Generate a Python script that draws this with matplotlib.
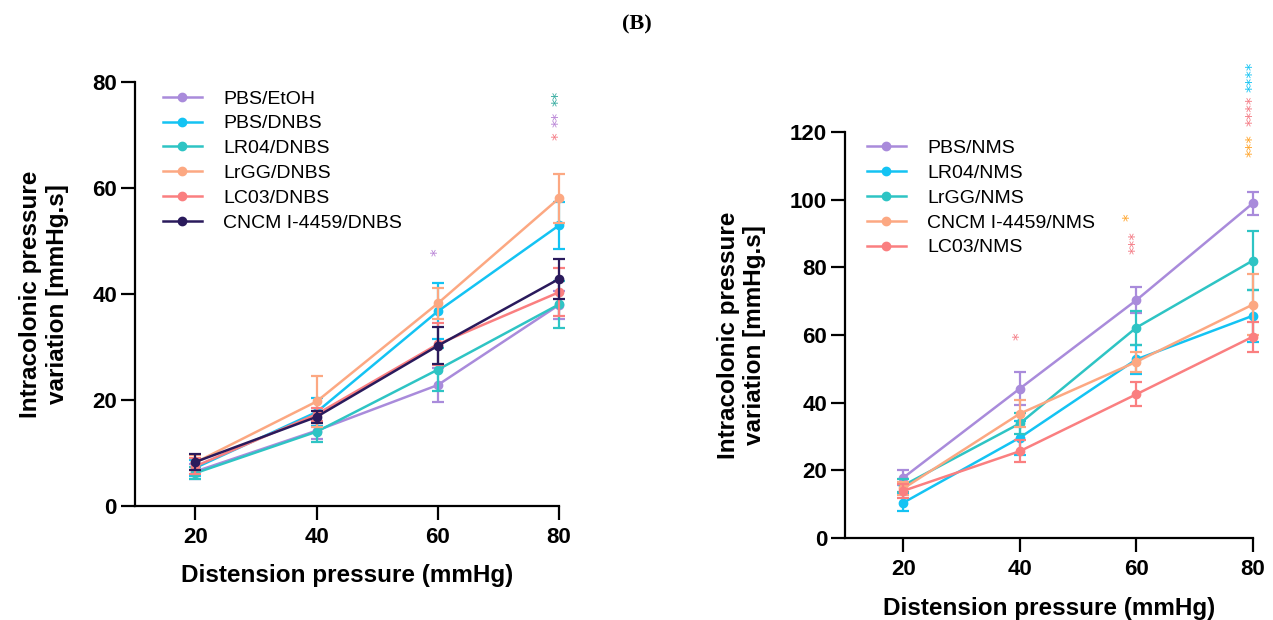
import numpy as np
import matplotlib.pyplot as plt

plt.rcParams['font.family'] = ['Liberation Sans', 'DejaVu Sans']

pressure = [20, 40, 60, 80]

# left panel (DNBS)
left_names = ['PBS/EtOH', 'PBS/DNBS', 'LR04/DNBS', 'LrGG/DNBS', 'LC03/DNBS', 'CNCM I-4459/DNBS']
left_means = [
    [6.5, 14.2, 22.8, 37.9],
    [7.2, 17.7, 36.7, 52.9],
    [6.2, 14.0, 25.7, 38.0],
    [8.2, 19.7, 38.2, 58.0],
    [7.5, 17.3, 30.5, 40.3],
    [8.3, 16.8, 30.2, 42.8],
]
left_sem = [
    [1.5, 1.5, 3.2, 2.6],
    [1.5, 2.6, 5.3, 4.5],
    [1.2, 2.0, 4.0, 4.4],
    [1.5, 4.8, 3.0, 4.7],
    [1.5, 1.2, 4.0, 4.5],
    [1.5, 1.2, 3.5, 3.8],
]
left_colors = ['#a98bdb', '#14c3f3', '#2ec4c4', '#fca882', '#fa7f80', '#2a1a5c']

# right panel (NMS)
right_names = ['PBS/NMS', 'LR04/NMS', 'LrGG/NMS', 'CNCM I-4459/NMS', 'LC03/NMS']
right_means = [
    [17.9, 44.2, 70.3, 98.9],
    [10.5, 29.7, 52.8, 65.7],
    [15.6, 33.9, 62.2, 82.0],
    [14.7, 36.8, 52.1, 69.0],
    [14.0, 25.7, 42.5, 59.5],
]
right_sem = [
    [2.2, 4.8, 3.8, 3.4],
    [2.6, 5.0, 4.2, 7.6],
    [2.0, 3.0, 5.0, 8.8],
    [2.0, 4.0, 3.0, 9.0],
    [2.0, 3.3, 3.5, 4.4],
]
right_colors = ['#a98bdb', '#14c3f3', '#2ec4c4', '#fca882', '#fa7f80']

# significance stars: x, y (centre), text, colour
left_star_x = [60, 80, 80, 80]
left_star_y = [47.8, 76.8, 73.0, 69.7]
left_star_txt = ['*', '**', '**', '*']
left_star_col = ['#b984d6', '#35ab9f', '#b984d6', '#f47a84']

right_star_x = [40, 59, 60, 80, 80, 80]
right_star_y = [59.8, 94.8, 87.2, 136.4, 126.2, 116.0]
right_star_txt = ['*', '*', '***', '****', '****', '***']
right_star_col = ['#f47a84', '#ffa42a', '#f47a84', '#14c3f3', '#f47a84', '#ffa42a']

fig = plt.figure(figsize=(12.73, 6.2), dpi=100)
fig.text(0.5, 0.961, '(B)', ha='center', va='center', fontsize=16,
         fontweight='bold', family='Liberation Serif')


def style(ax, xlim, ylim, yticks):
    ax.set_xlim(*xlim)
    ax.set_ylim(*ylim)
    ax.set_xticks(pressure)
    ax.set_yticks(yticks)
    for s in ['top', 'right']:
        ax.spines[s].set_visible(False)
    for s in ['left', 'bottom']:
        ax.spines[s].set_linewidth(1.6)
    ax.tick_params(width=1.6, length=10, labelsize=16, pad=3)
    ax.tick_params(axis='x', pad=5)
    for lab in ax.get_xticklabels() + ax.get_yticklabels():
        lab.set_fontweight('bold')
    ax.set_xlabel('Distension pressure (mmHg)', fontsize=17.5, fontweight='bold', labelpad=12)
    ax.set_ylabel('Intracolonic pressure\nvariation [mmHg.s]', fontsize=17.5,
                  fontweight='bold', labelpad=17, linespacing=1.2)


def draw(ax, names, means, sems, colors):
    for name, m, e, c in zip(names, means, sems, colors):
        ax.errorbar(pressure, m, yerr=e, fmt='none', ecolor=c, elinewidth=1.6,
                    capsize=4, capthick=1.6, clip_on=False)
        ax.plot(pressure, m, color=c, lw=1.8, marker='o', ms=6, label=name, clip_on=False)


def legend(ax, x, y):
    ax.legend(loc='upper left', bbox_to_anchor=(x, y), bbox_transform=fig.transFigure,
              frameon=False, fontsize=14, handlelength=2.0, handletextpad=1.1,
              labelspacing=0.37, borderpad=0, borderaxespad=0)


axL = fig.add_axes([0.106, 0.184, 0.333, 0.684])
draw(axL, left_names, left_means, left_sem, left_colors)
style(axL, (10, 80), (0, 80), [0, 20, 40, 60, 80])
for x, y, t, c in zip(left_star_x, left_star_y, left_star_txt, left_star_col):
    axL.text(x, y, t, color=c, fontsize=11, rotation=90, ha='center', va='center',
             family='DejaVu Sans')
legend(axL, 0.128, 0.855)

axR = fig.add_axes([0.664, 0.132, 0.320, 0.655])
draw(axR, right_names, right_means, right_sem, right_colors)
style(axR, (10, 80), (0, 120), [0, 20, 40, 60, 80, 100, 120])
for x, y, t, c in zip(right_star_x, right_star_y, right_star_txt, right_star_col):
    axR.text(x, y, t, color=c, fontsize=11, rotation=90, ha='center', va='center',
             family='DejaVu Sans', clip_on=False)
legend(axR, 0.681, 0.775)

fig.savefig('out.png', dpi=100)
